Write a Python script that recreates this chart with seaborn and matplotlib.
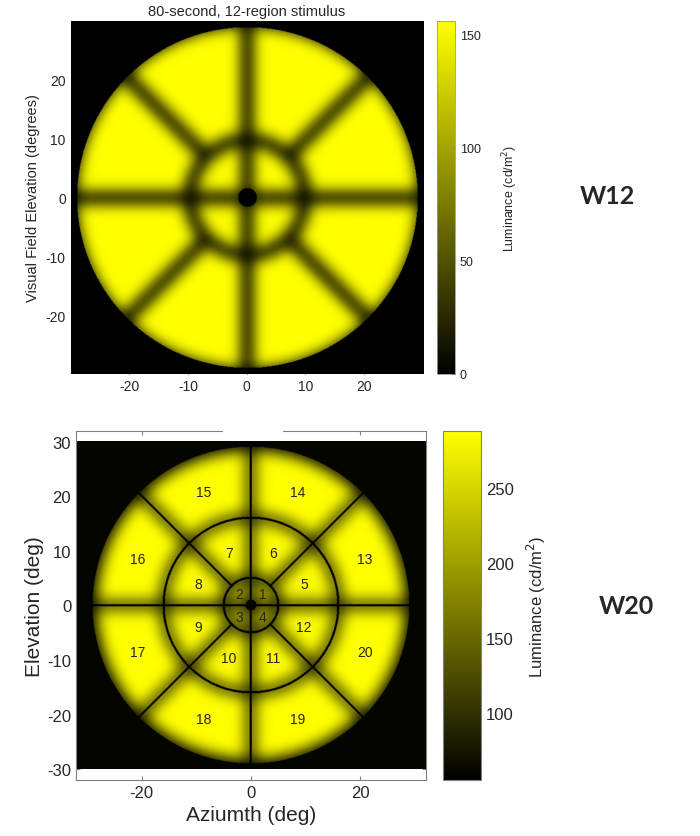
import numpy as np
import matplotlib
matplotlib.use('Agg')
import matplotlib.pyplot as plt
import seaborn as sns
from matplotlib.colors import LinearSegmentedColormap
from matplotlib.patches import Rectangle

# W12 stimulus: ring edges (deg), sectors per ring, luminance (cd/m2)
w12_edges = [1.6, 9.8, 29.0]
w12_sectors = [4, 8]
w12_lum = [0, 156]              # background, region peak
w12_cbar_ticks = [0, 50, 100, 150]
w12_ticks = [-20, -10, 0, 10, 20]

# W20 stimulus
w20_edges = [1.0, 5.0, 16.0, 29.0]
w20_sectors = [4, 8, 8]
w20_lum = [57, 288]
w20_background = 60
w20_cbar_lim = [55, 288]
w20_cbar_ticks = [100, 150, 200, 250]
w20_xticks = [-20, 0, 20]
w20_yticks = [-30, -20, -10, 0, 10, 20, 30]
w20_labels = [[1, 2, 3, 4],
              [5, 6, 7, 8, 9, 10, 11, 12],
              [13, 14, 15, 16, 17, 18, 19, 20]]

STEP = 0.1  # deg per image pixel


def boundaries(X, Y, edges, sectors, hw, rim=False):
    # True where a pixel lies on a region boundary line
    r = np.hypot(X, Y)
    th = np.mod(np.arctan2(Y, X), 2 * np.pi)
    on = np.zeros(r.shape, bool)
    for i, n in enumerate(sectors):
        ring = (r >= edges[i]) & (r < edges[i + 1])
        step = 2 * np.pi / n
        dth = np.mod(th, step)
        dth = np.minimum(dth, step - dth)
        on |= ring & (r * np.sin(dth) < hw)
    for e in (edges if rim else edges[1:-1]):
        on |= np.abs(r - e) < hw
    return on, r


def blur(a, sigma):
    s = sigma / STEP
    x = np.arange(-int(4 * s), int(4 * s) + 1)
    k = np.exp(-0.5 * (x / s) ** 2)
    k /= k.sum()
    a = np.apply_along_axis(lambda v: np.convolve(v, k, 'same'), 0, a)
    return np.apply_along_axis(lambda v: np.convolve(v, k, 'same'), 1, a)


sns.set_style('ticks')
plt.rcParams['font.family'] = ['Liberation Sans', 'DejaVu Sans']
plt.rcParams['axes.unicode_minus'] = False
txt = '#262626'
cmap = LinearSegmentedColormap.from_list('black_yellow', ['#000000', '#ffff00'])

fig = plt.figure(figsize=(7, 8.37), dpi=100)
ax1 = fig.add_axes([0.101, 0.552, 0.503, 0.4217])
cax1 = fig.add_axes([0.624, 0.552, 0.0257, 0.4217])
ax2 = fig.add_axes([0.1086, 0.0669, 0.5, 0.417])
cax2 = fig.add_axes([0.633, 0.0669, 0.0543, 0.417])

# ---- top panel: wide blurred boundaries
xs = np.arange(-30, 30 + STEP / 2, STEP)
X, Y = np.meshgrid(xs, xs)
on1, r1 = boundaries(X, Y, w12_edges, w12_sectors, 1.1)
inside1 = (r1 >= w12_edges[0]) & (r1 < w12_edges[-1])
img1 = w12_lum[0] + (w12_lum[1] - w12_lum[0]) * blur((inside1 & ~on1).astype(float), 1.15)
img1[~inside1] = w12_lum[0]
im1 = ax1.imshow(img1, origin='lower', extent=[-30, 30, -30, 30], cmap=cmap,
                 vmin=0, vmax=156, aspect='auto', interpolation='bilinear', zorder=1)
ax1.set_xlim(-30, 30)
ax1.set_ylim(-30, 30)
ax1.set_axisbelow(True)
ax1.set_xticks(w12_ticks)
ax1.set_yticks(w12_ticks)
ax1.tick_params(direction='in', labelsize=10, colors=txt, length=3)
for s in ax1.spines.values():
    s.set_visible(False)
ax1.set_ylabel('Visual Field Elevation (degrees)', fontsize=10.5, color=txt, labelpad=4)
ax1.set_title('80-second, 12-region stimulus', fontsize=10.5, color=txt, pad=4)
cb1 = fig.colorbar(im1, cax=cax1, ticks=w12_cbar_ticks)
cb1.outline.set_edgecolor('#999999')
cb1.outline.set_linewidth(0.6)
cax1.tick_params(direction='in', labelsize=9, colors=txt, length=3)
cb1.set_label('Luminance (cd/m$^2$)', fontsize=9, color=txt, labelpad=14)

# ---- bottom panel: thin sharp boundaries with soft shading
xs2 = np.arange(-32, 32 + STEP / 2, STEP)
ys2 = np.arange(-30, 30 + STEP / 2, STEP)
X2, Y2 = np.meshgrid(xs2, ys2)
soft2, r2 = boundaries(X2, Y2, w20_edges, w20_sectors, 0.8, rim=True)
on2, _ = boundaries(X2, Y2, w20_edges, w20_sectors, 0.2)
inside2 = (r2 >= w20_edges[0]) & (r2 < w20_edges[-1])
img2 = w20_lum[0] + (w20_lum[1] - w20_lum[0]) * blur((inside2 & ~soft2).astype(float), 1.3)
img2[on2] = w20_lum[0]
img2[~inside2] = w20_background
im2 = ax2.imshow(img2, origin='lower', extent=[-32, 32, -30, 30], cmap=cmap,
                 vmin=w20_cbar_lim[0], vmax=w20_cbar_lim[1], aspect='auto',
                 interpolation='bilinear', zorder=1)
ax2.set_facecolor('white')
ax2.set_xlim(-32, 32)
ax2.set_ylim(-32, 32)
ax2.set_axisbelow(True)
ax2.set_xticks(w20_xticks)
ax2.set_yticks(w20_yticks)
ax2.tick_params(direction='in', labelsize=12, colors=txt, length=3, top=True, right=True)
ax2.tick_params(axis='both', color='#808080')
for s in ax2.spines.values():
    s.set_color('#808080')
    s.set_linewidth(0.8)
ax2.set_xlabel('Aziumth (deg)', fontsize=15, color=txt, labelpad=4)
ax2.set_ylabel('Elevation (deg)', fontsize=15, color=txt, labelpad=2)
# white gap in the top frame
ax2.add_patch(Rectangle((0.42, 0.985), 0.171, 0.03, transform=ax2.transAxes,
                        facecolor='white', edgecolor='none', clip_on=False, zorder=5))

for ring, labels in enumerate(w20_labels):
    r_mid = (w20_edges[ring] + w20_edges[ring + 1]) / 2
    n = w20_sectors[ring]
    for k, lab in enumerate(labels):
        a = (k + 0.5) * 2 * np.pi / n
        ax2.text(r_mid * np.cos(a), r_mid * np.sin(a), str(lab), ha='center',
                 va='center', fontsize=10, color=txt, zorder=3)

cb2 = fig.colorbar(im2, cax=cax2, ticks=w20_cbar_ticks)
cb2.outline.set_edgecolor('#808080')
cb2.outline.set_linewidth(0.8)
cax2.tick_params(direction='in', labelsize=12, colors=txt, length=3)
cb2.set_label('Luminance (cd/m$^2$)', fontsize=12, color=txt, labelpad=8)

fig.text(607 / 700, 1 - 197 / 837, 'W12', fontsize=18, fontweight='bold',
         family=['Lato', 'DejaVu Sans'], ha='center', va='center')
fig.text(626 / 700, 1 - 607 / 837, 'W20', fontsize=18, fontweight='bold',
         family=['Lato', 'DejaVu Sans'], ha='center', va='center')

fig.savefig('out.png', dpi=100)
